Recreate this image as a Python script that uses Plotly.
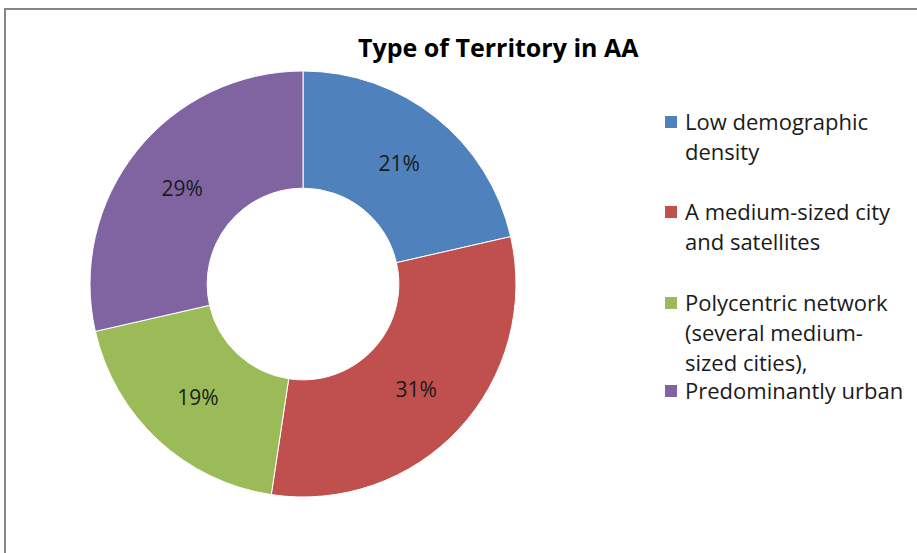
import plotly.graph_objects as go

# ---- data ----
categories = [
    "Low demographic<br>density",
    "A medium-sized city<br>and satellites",
    "Polycentric network<br>(several medium-<br>sized cities),",
    "Predominantly urban",
]
values = [9, 13, 8, 12]
colors = ["#4F81BD", "#C0504D", "#9BBB59", "#8064A2"]
title_text = "Type of Territory in AA"

W, H = 917, 553


def px(x):
    return x / W


def py(y):
    return 1 - y / H


FONT = "Open Sans"

fig = go.Figure(
    go.Pie(
        labels=categories,
        values=values,
        hole=0.45,
        sort=False,
        direction="clockwise",
        rotation=0,
        marker=dict(colors=colors, line=dict(color="white", width=1)),
        texttemplate="%{percent:.0%}",
        textposition="inside",
        insidetextorientation="horizontal",
        textfont=dict(family=FONT, size=21, color="#1a1a1a"),
        domain=dict(x=[px(90), px(516)], y=[py(497), py(71)]),
        showlegend=False,
        hoverinfo="label+percent",
    )
)

shapes = [
    dict(type="rect", xref="paper", yref="paper",
         x0=px(5), x1=px(940), y0=py(575), y1=py(9),
         line=dict(color="#868686", width=2), fillcolor="rgba(0,0,0,0)")
]
annotations = [
    dict(text="<b>" + title_text + "</b>", xref="paper", yref="paper",
         x=px(498), y=py(47), xanchor="center", yanchor="middle",
         showarrow=False, font=dict(family=FONT, size=25, color="black"))
]

# manual legend (Excel-like spacing)
first_line_y = [121, 211, 302, 390]
line_gap = 30
sq = 12
for cat, col, y0 in zip(categories, colors, first_line_y):
    shapes.append(dict(type="rect", xref="paper", yref="paper",
                       x0=px(665), x1=px(665 + sq),
                       y0=py(y0 + 1 + sq / 2), y1=py(y0 + 1 - sq / 2),
                       fillcolor=col, line=dict(width=0)))
    for i, line in enumerate(cat.split("<br>")):
        annotations.append(dict(text=line, xref="paper", yref="paper",
                                x=px(683), y=py(y0 + i * line_gap),
                                xanchor="left", yanchor="middle",
                                showarrow=False,
                                font=dict(family=FONT, size=22, color="#1a1a1a")))

fig.update_layout(
    width=W, height=H,
    margin=dict(l=0, r=0, t=0, b=0),
    paper_bgcolor="white",
    plot_bgcolor="white",
    shapes=shapes,
    annotations=annotations,
)

fig.write_html("out.html", config={"displayModeBar": False},
               post_script="document.body.style.margin='0px';")
